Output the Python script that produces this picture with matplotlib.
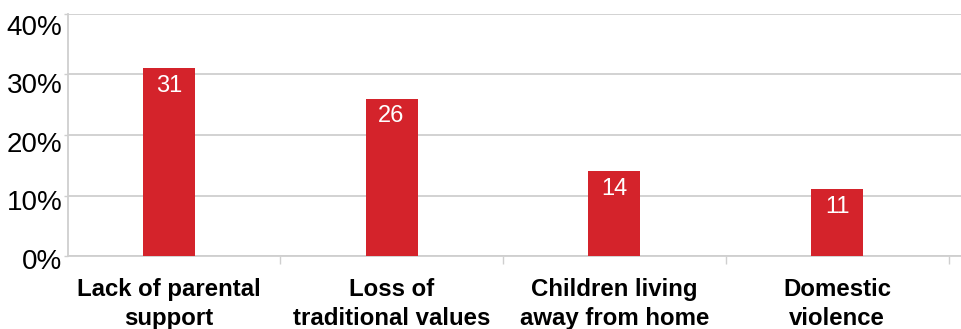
import matplotlib
matplotlib.use("Agg")
import matplotlib.pyplot as plt
from matplotlib.ticker import FixedLocator
from matplotlib.transforms import ScaledTranslation

categories = ["Lack of parental\nsupport", "Loss of\ntraditional values",
              "Children living\naway from home", "Domestic\nviolence"]
values = [31, 26, 14, 11]
y_ticks = [0, 10, 20, 30, 40]
y_tick_labels = ["0%", "10%", "20%", "30%", "40%"]

plt.rcParams["font.family"] = ["Liberation Sans", "DejaVu Sans"]

BAR = "#d4232b"
GRID = "#cfcfcf"
DPI = 100

fig = plt.figure(figsize=(9.62, 3.29), dpi=DPI)
ax = fig.add_axes([68 / 962, 73 / 329, (962 - 68) / 962, 242 / 329])

x = list(range(len(categories)))
bars = ax.bar(x, values, width=0.233, color=BAR, zorder=3)

for b, v in zip(bars, values):
    ax.annotate(str(v), (b.get_x() + b.get_width() / 2, v),
                xytext=(0, -12.6), textcoords="offset points",
                ha="center", va="center", color="white", fontsize=17, zorder=4)

ax.set_ylim(0, 40)
ax.set_xlim(-0.452, 3.56)
ax.set_yticks(y_ticks)
ax.set_yticklabels(y_tick_labels, fontsize=20)
ax.yaxis.grid(True, color=GRID, linewidth=1.3, zorder=0)
ax.tick_params(axis="y", length=3, width=1, color=GRID, pad=1)

# percentage labels sit slightly below their gridlines, a bit more towards the top
for i, lab in enumerate(ax.get_yticklabels()):
    dy = -(3 + 2 * i) / DPI
    lab.set_transform(lab.get_transform() + ScaledTranslation(0, dy, fig.dpi_scale_trans))

# category boundaries as major ticks, names as minor ticks at bar centres
ax.xaxis.set_major_locator(FixedLocator([0.5, 1.5, 2.5, 3.5]))
ax.set_xticklabels([])
ax.tick_params(axis="x", which="major", length=6, width=1, color=GRID)
ax.xaxis.set_minor_locator(FixedLocator(x))
ax.set_xticklabels(categories, minor=True, fontsize=17.3, fontweight="bold",
                   linespacing=1.3)
ax.tick_params(axis="x", which="minor", length=0, pad=16)

for s in ["top", "right"]:
    ax.spines[s].set_visible(False)
for s in ["left", "bottom"]:
    ax.spines[s].set_color(GRID)
    ax.spines[s].set_linewidth(1.3)

fig.savefig("out.png", dpi=DPI)
